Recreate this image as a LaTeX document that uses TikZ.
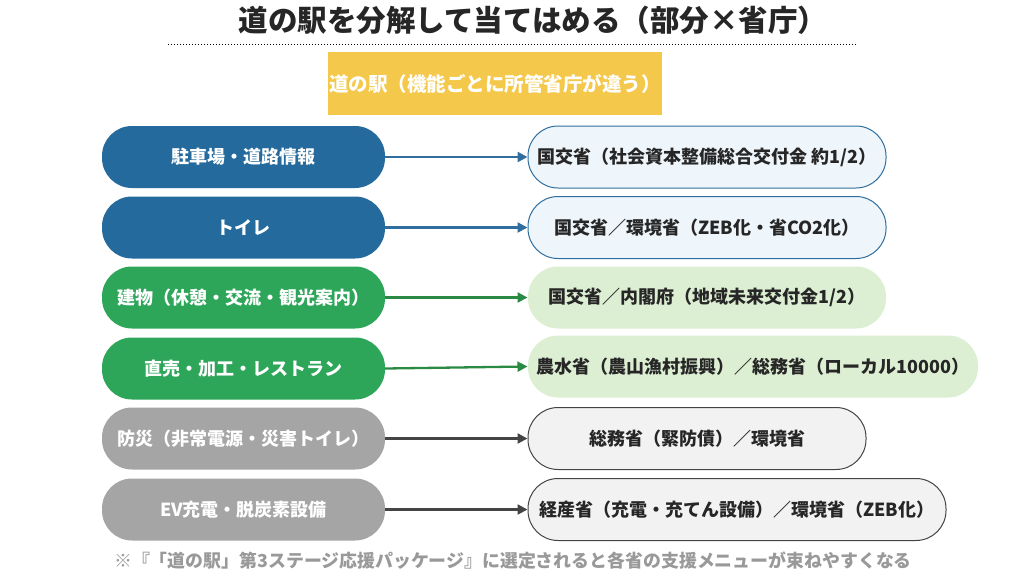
\documentclass[tikz,border=0pt]{standalone}
\usepackage{fontspec}
\setmainfont{Noto Sans CJK JP}
\usetikzlibrary{arrows.meta}
\definecolor{cblue}{HTML}{246A9C}
\definecolor{cgreen}{HTML}{2EA65A}
\definecolor{cgray}{HTML}{A5A5A5}
\definecolor{lblue}{HTML}{EEF5FB}
\definecolor{lgreen}{HTML}{DDEFD3}
\definecolor{lgray}{HTML}{F2F2F2}
\definecolor{ablue}{HTML}{2F6E9E}
\definecolor{agreen}{HTML}{2A8A44}
\definecolor{agray}{HTML}{444444}
\definecolor{ylw}{HTML}{F4C84A}
\begin{document}
\begin{tikzpicture}[x=1pt,y=-1pt,
 lp/.style={rounded corners=30pt,minimum height=62pt,minimum width=283pt,text=white,font=\fontsize{18}{18}\selectfont\bfseries,inner sep=0pt},
 rp/.style={rounded corners=30pt,minimum height=62pt,text=black!85,font=\fontsize{18}{18}\selectfont\bfseries,inner sep=0pt,line width=1pt},
 ar/.style={line width=2.3pt,-{Triangle[length=10pt,width=10pt]}}]
\useasboundingbox (0,0) rectangle (1024,576);
\node[font=\fontsize{29.5}{29.5}\selectfont\bfseries,text=black!85] (t) at (533,20) {道の駅を分解して当てはめる（部分×省庁）};
\draw[dotted,line width=1pt] (168,44) -- (856,44);
\node[fill=ylw,minimum width=334pt,minimum height=63pt,text=white,font=\fontsize{19.5}{19.5}\selectfont\bfseries,inner sep=0pt] (y) at (495,83.5) {道の駅（機能ごとに所管省庁が違う）};
\foreach \i/\y/\c/\t in {1/157/cblue/駐車場・道路情報,2/227.5/cblue/トイレ,3/297.5/cgreen/建物（休憩・交流・観光案内）,4/368.5/cgreen/直売・加工・レストラン,5/438.5/cgray/防災（非常電源・災害トイレ）,6/509.5/cgray/EV充電・脱炭素設備}
 \node[lp,fill=\c] (l\i) at (243.5,\y) {\t};
\node[rp,fill=lblue,draw=ablue,minimum width=358pt] (r1) at (707,157) {国交省（社会資本整備総合交付金 約1/2）};
\node[rp,fill=lblue,draw=ablue,minimum width=358pt] (r2) at (707,227.5) {国交省／環境省（ZEB化・省CO2化）};
\node[rp,fill=lgreen,minimum width=358pt] (r3) at (707,297.5) {国交省／内閣府（地域未来交付金1/2）};
\node[rp,fill=lgreen,minimum width=450pt] (r4) at (753,366.5) {農水省（農山漁村振興）／総務省（ローカル10000）};
\node[rp,fill=lgray,draw=agray,minimum width=338pt] (r5) at (697,438.5) {総務省（緊防債）／環境省};
\node[rp,fill=lgray,draw=agray,minimum width=418pt] (r6) at (737,509.5) {経産省（充電・充てん設備）／環境省（ZEB化）};
\draw[ar,ablue] (l1.east) -- (r1.west);
\draw[ar,ablue] (l2.east) -- (r2.west);
\draw[ar,agreen] (l3.east) -- (r3.west);
\draw[ar,agreen] (l4.east) -- (r4.west);
\draw[ar,agray] (l5.east) -- (r5.west);
\draw[ar,agray] (l6.east) -- (r6.west);
\node[text=black!40,font=\fontsize{17.9}{17.9}\selectfont\bfseries] (f) at (513,561) {※『「道の駅」第3ステージ応援パッケージ』に選定されると各省の支援メニューが束ねやすくなる};
\end{tikzpicture}
\end{document}
